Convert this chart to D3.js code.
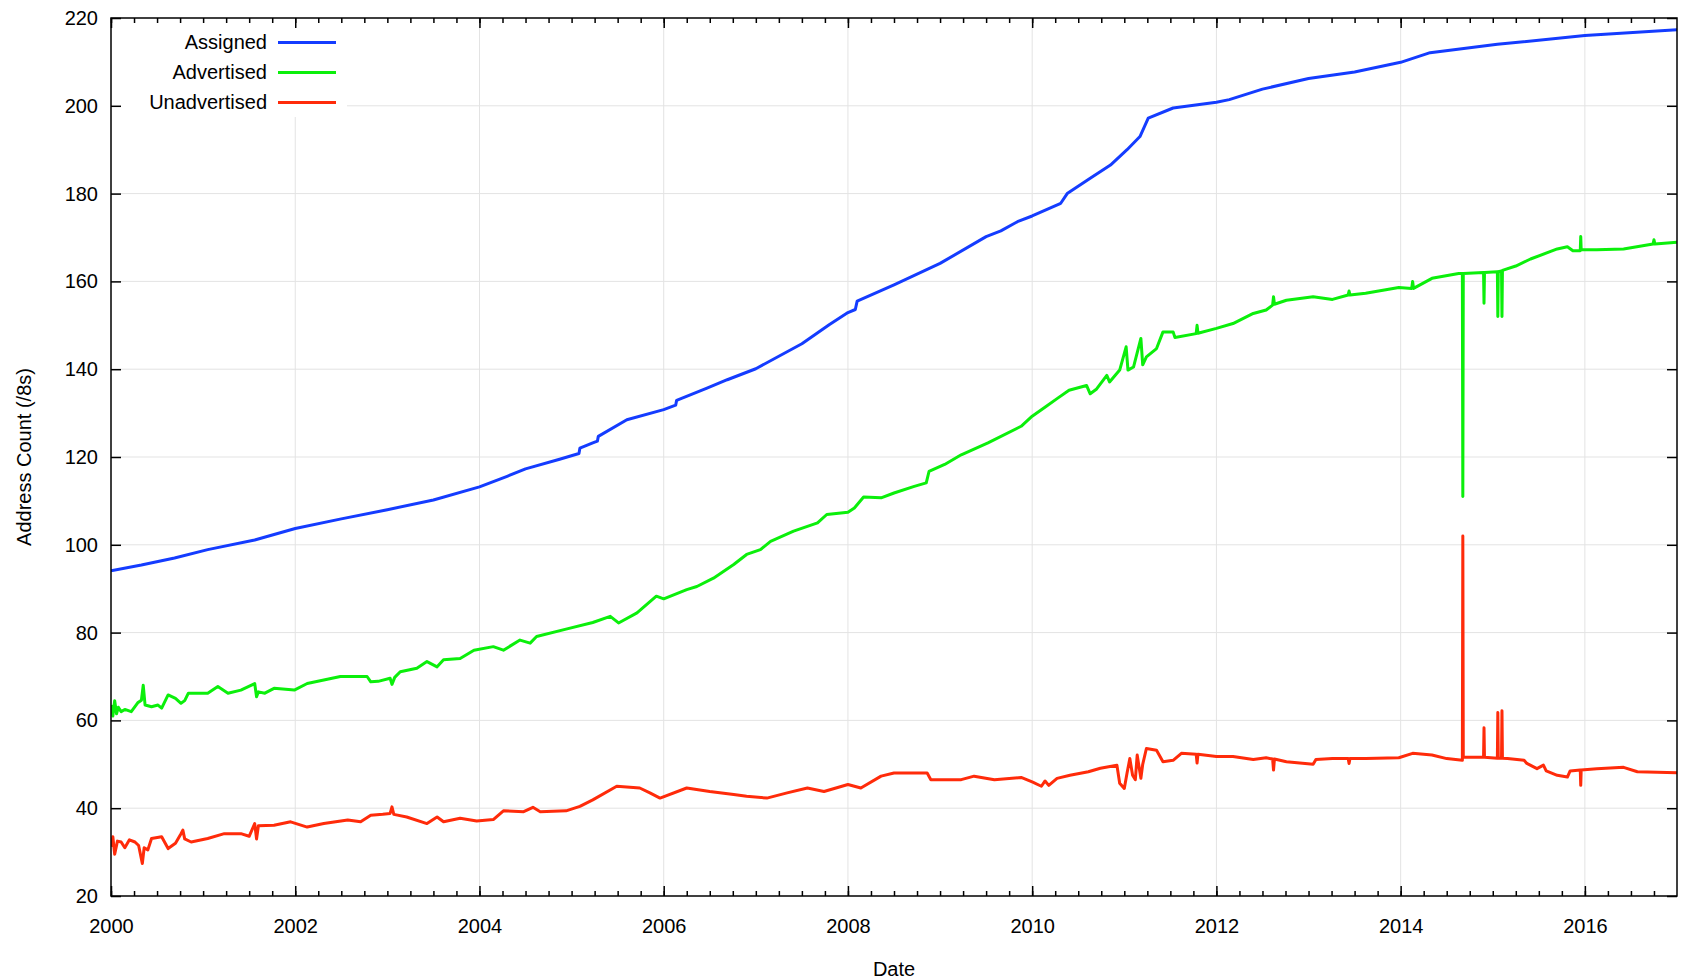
<!DOCTYPE html>
<html>
<head>
<meta charset="utf-8">
<script src="https://cdn.jsdelivr.net/npm/d3@7"></script>
<style>
  body { margin: 0; background: #fff; }
  svg { display: block; font-family: "Liberation Sans", Arial, sans-serif; }
  .grid line { stroke: #e3e3e3; stroke-width: 1; }
  .axis path { display: none; }
  .axis line { stroke: #000; stroke-width: 1.5; }
  .axis text { font-size: 20px; fill: #000; }
  .series { fill: none; stroke-width: 3; stroke-linejoin: round; stroke-linecap: butt; }
</style>
</head>
<body>
<div id="chart"></div>
<script>
///// Data (decimal year, /8 count)

let assigned = [
  [2000.0, 94.1], [2000.33, 95.4], [2000.69, 97.0], [2001.05, 98.9], [2001.56, 101.1],
  [2002.0, 103.7], [2002.5, 105.9], [2003.0, 108.0], [2003.5, 110.2], [2004.0, 113.2],
  [2004.3, 115.6], [2004.5, 117.3], [2004.87, 119.5], [2005.08, 120.8], [2005.09, 122.0],
  [2005.23, 123.2], [2005.28, 123.6], [2005.29, 124.7], [2005.6, 128.5], [2006.0, 130.8],
  [2006.13, 131.8], [2006.14, 132.9], [2006.47, 135.7], [2006.69, 137.6], [2007.0, 140.1],
  [2007.5, 145.8], [2007.8, 150.2], [2008.0, 152.9], [2008.08, 153.6], [2008.1, 155.5],
  [2008.5, 159.2], [2009.0, 164.1], [2009.5, 170.2], [2009.66, 171.5], [2009.84, 173.6],
  [2010.0, 174.9], [2010.31, 177.8], [2010.38, 180.0], [2010.63, 183.5], [2010.85, 186.5],
  [2011.03, 190.0], [2011.17, 193.0], [2011.26, 197.2], [2011.53, 199.5], [2012.0, 200.8],
  [2012.14, 201.4], [2012.5, 203.8], [2013.0, 206.2], [2013.5, 207.7], [2014.0, 209.9],
  [2014.32, 212.1], [2015.05, 214.0], [2016.0, 216.0], [2017.0, 217.3]
];

let advertised = [
  [2000.0, 63.5], [2000.02, 61.0], [2000.04, 64.5], [2000.06, 61.5], [2000.08, 63.0],
  [2000.11, 62.0], [2000.15, 62.5], [2000.22, 62.0], [2000.29, 64.0], [2000.33, 64.6],
  [2000.35, 68.0], [2000.37, 63.5], [2000.44, 63.1], [2000.51, 63.5], [2000.55, 62.8],
  [2000.62, 65.8], [2000.7, 65.0], [2000.76, 63.9], [2000.8, 64.5], [2000.84, 66.2],
  [2001.05, 66.2], [2001.16, 67.7], [2001.27, 66.2], [2001.41, 66.9], [2001.56, 68.4],
  [2001.58, 65.4], [2001.6, 66.5], [2001.67, 66.2], [2001.77, 67.3], [2001.99, 66.9],
  [2002.13, 68.4], [2002.31, 69.2], [2002.49, 70.0], [2002.64, 70.0], [2002.78, 70.0],
  [2002.82, 68.8], [2002.9, 68.9], [2003.03, 69.6], [2003.05, 68.2], [2003.08, 69.8],
  [2003.14, 71.1], [2003.32, 71.9], [2003.43, 73.4], [2003.54, 72.2], [2003.61, 73.8],
  [2003.79, 74.1], [2003.94, 76.0], [2004.15, 76.8], [2004.26, 76.0], [2004.44, 78.3],
  [2004.55, 77.6], [2004.62, 79.1], [2004.94, 80.8], [2005.23, 82.3], [2005.42, 83.7],
  [2005.51, 82.2], [2005.71, 84.5], [2005.92, 88.3], [2006.0, 87.7], [2006.25, 89.8],
  [2006.36, 90.5], [2006.54, 92.4], [2006.76, 95.5], [2006.9, 97.8], [2007.05, 98.9],
  [2007.16, 100.8], [2007.41, 103.1], [2007.67, 105.0], [2007.77, 106.9], [2008.0, 107.4],
  [2008.07, 108.4], [2008.17, 110.9], [2008.36, 110.7], [2008.5, 111.8], [2008.72, 113.3],
  [2008.85, 114.1], [2008.88, 116.7], [2009.05, 118.3], [2009.23, 120.5], [2009.52, 123.2],
  [2009.88, 127.0], [2010.0, 129.3], [2010.15, 131.5], [2010.27, 133.3], [2010.4, 135.2],
  [2010.59, 136.3], [2010.63, 134.4], [2010.7, 135.5], [2010.81, 138.6], [2010.84, 137.1],
  [2010.95, 139.8], [2011.02, 145.1], [2011.04, 139.8], [2011.1, 140.5], [2011.18, 147.0],
  [2011.2, 141.0], [2011.24, 142.8], [2011.35, 144.7], [2011.42, 148.5], [2011.53, 148.5],
  [2011.55, 147.2], [2011.78, 148.1], [2011.79, 150.0], [2011.8, 148.2], [2012.0, 149.3],
  [2012.18, 150.4], [2012.4, 152.7], [2012.54, 153.5], [2012.61, 154.6], [2012.62, 156.5],
  [2012.63, 154.8], [2012.76, 155.7], [2013.05, 156.5], [2013.26, 155.9], [2013.43, 156.9],
  [2013.44, 157.8], [2013.45, 156.9], [2013.62, 157.3], [2013.98, 158.6], [2014.12, 158.4],
  [2014.13, 160.0], [2014.14, 158.4], [2014.34, 160.7], [2014.63, 161.8], [2014.67, 161.8],
  [2014.675, 111.0], [2014.68, 161.8], [2014.9, 162.0], [2014.905, 155.0], [2014.91, 162.0],
  [2015.05, 162.2], [2015.055, 152.0], [2015.06, 162.2], [2015.095, 162.4], [2015.1, 152.0],
  [2015.105, 162.5], [2015.25, 163.5], [2015.41, 165.1], [2015.7, 167.4], [2015.81, 167.9],
  [2015.87, 167.0], [2015.95, 167.0], [2015.955, 170.2], [2015.96, 167.2], [2016.13, 167.2],
  [2016.42, 167.4], [2016.74, 168.5], [2016.75, 169.5], [2016.76, 168.5], [2017.0, 168.9]
];

let unadvertised = [
  [2000.0, 31.2], [2000.02, 33.5], [2000.04, 29.5], [2000.07, 32.5], [2000.11, 32.3],
  [2000.15, 31.0], [2000.2, 32.8], [2000.26, 32.3], [2000.3, 31.5], [2000.34, 27.4],
  [2000.36, 31.0], [2000.4, 30.5], [2000.44, 33.1], [2000.55, 33.5], [2000.62, 30.8],
  [2000.7, 32.0], [2000.76, 34.2], [2000.78, 35.0], [2000.8, 33.0], [2000.87, 32.3],
  [2001.05, 33.1], [2001.23, 34.2], [2001.41, 34.2], [2001.5, 33.6], [2001.56, 36.5],
  [2001.58, 33.0], [2001.6, 36.0], [2001.77, 36.1], [2001.95, 36.9], [2002.13, 35.7],
  [2002.31, 36.5], [2002.57, 37.3], [2002.71, 36.9], [2002.82, 38.4], [2002.95, 38.6],
  [2003.03, 38.8], [2003.05, 40.3], [2003.07, 38.6], [2003.21, 38.0], [2003.43, 36.5],
  [2003.54, 38.0], [2003.61, 36.9], [2003.79, 37.7], [2003.97, 37.1], [2004.15, 37.4],
  [2004.26, 39.4], [2004.48, 39.2], [2004.58, 40.2], [2004.66, 39.2], [2004.94, 39.4],
  [2005.09, 40.4], [2005.23, 41.9], [2005.49, 45.0], [2005.74, 44.6], [2005.85, 43.5],
  [2005.96, 42.3], [2006.25, 44.6], [2006.5, 43.8], [2006.76, 43.1], [2006.9, 42.7],
  [2007.12, 42.3], [2007.34, 43.5], [2007.56, 44.6], [2007.74, 43.8], [2008.0, 45.4],
  [2008.14, 44.6], [2008.36, 47.3], [2008.5, 48.0], [2008.86, 48.0], [2008.9, 46.5],
  [2009.23, 46.5], [2009.37, 47.3], [2009.59, 46.5], [2009.88, 47.0], [2010.0, 46.0],
  [2010.1, 45.0], [2010.14, 46.2], [2010.18, 45.2], [2010.27, 46.8], [2010.41, 47.5],
  [2010.61, 48.3], [2010.74, 49.1], [2010.92, 49.8], [2010.95, 45.7], [2011.0, 44.5],
  [2011.03, 48.0], [2011.06, 51.3], [2011.09, 47.5], [2011.12, 46.5], [2011.14, 52.1],
  [2011.18, 46.8], [2011.2, 50.0], [2011.24, 53.6], [2011.35, 53.2], [2011.42, 50.6],
  [2011.53, 50.9], [2011.62, 52.5], [2011.78, 52.3], [2011.79, 50.3], [2011.8, 52.3],
  [2012.0, 51.8], [2012.18, 51.8], [2012.4, 51.1], [2012.54, 51.5], [2012.61, 51.2],
  [2012.62, 48.7], [2012.63, 51.2], [2012.76, 50.6], [2013.05, 50.0], [2013.08, 51.1],
  [2013.26, 51.3], [2013.43, 51.3], [2013.44, 50.2], [2013.45, 51.3], [2013.62, 51.3],
  [2013.98, 51.5], [2014.13, 52.5], [2014.34, 52.1], [2014.5, 51.3], [2014.67, 50.9],
  [2014.675, 102.0], [2014.68, 51.6], [2014.9, 51.6], [2014.905, 58.3], [2014.91, 51.6],
  [2015.05, 51.4], [2015.055, 61.8], [2015.06, 51.4], [2015.095, 51.4], [2015.1, 62.2],
  [2015.105, 51.4], [2015.16, 51.3], [2015.34, 50.9], [2015.37, 50.2], [2015.48, 49.0],
  [2015.55, 49.8], [2015.58, 48.5], [2015.7, 47.5], [2015.81, 47.1], [2015.84, 48.5],
  [2015.95, 48.7], [2015.955, 45.2], [2015.96, 48.7], [2016.13, 49.0], [2016.42, 49.3],
  [2016.57, 48.3], [2017.0, 48.1]
];

let seriesNames = ["Assigned", "Advertised", "Unadvertised"];
let seriesColors = ["#143cff", "#0bef0b", "#ff2b0a"];

let yearLabels = [2000, 2002, 2004, 2006, 2008, 2010, 2012, 2014, 2016];
let yearMinor = d3.range(2000, 2017, 0.25);
let countTicks = [20, 40, 60, 80, 100, 120, 140, 160, 180, 200, 220];


///// Layout

let margin = { top: 18, right: 8, bottom: 84, left: 111 },
    width = 1685 - margin.left - margin.right,
    height = 980 - margin.top - margin.bottom;

let x = d3.scaleLinear().domain([2000, 2017]).range([0, width]);
let y = d3.scaleLinear().domain([20, 220]).range([height, 0]);

let svg = d3.select("#chart")
    .append("svg")
    .attr("width", 1685)
    .attr("height", 980);

let g = svg.append("g")
    .attr("transform", "translate(" + margin.left + "," + margin.top + ")");

// grid
g.append("g")
    .attr("class", "grid")
    .selectAll("line.v")
    .data(yearLabels.slice(1))
    .enter().append("line")
    .attr("x1", function(d) { return x(d); })
    .attr("x2", function(d) { return x(d); })
    .attr("y1", 0)
    .attr("y2", height);

g.append("g")
    .attr("class", "grid")
    .selectAll("line.h")
    .data(countTicks.slice(1, -1))
    .enter().append("line")
    .attr("x1", 0)
    .attr("x2", width)
    .attr("y1", function(d) { return y(d); })
    .attr("y2", function(d) { return y(d); });

// lines
g.append("clipPath")
    .attr("id", "plot-clip")
    .append("rect")
    .attr("width", width)
    .attr("height", height);

let valueline = d3.line()
    .x(function(d) { return x(d[0]); })
    .y(function(d) { return y(d[1]); });

let allSeries = [assigned, advertised, unadvertised];

g.append("g")
    .attr("clip-path", "url(#plot-clip)")
    .selectAll("path")
    .data(allSeries)
    .enter().append("path")
    .attr("class", "series")
    .attr("stroke", function(d, i) { return seriesColors[i]; })
    .attr("d", valueline);

// legend box (hides grid behind it)
let legend = g.append("g");

legend.append("rect")
    .attr("x", 0)
    .attr("y", 0)
    .attr("width", 236)
    .attr("height", 99)
    .attr("fill", "#fff");

let rows = legend.selectAll("g.row")
    .data(seriesNames)
    .enter().append("g")
    .attr("transform", function(d, i) { return "translate(0," + (24.5 + i * 30) + ")"; });

rows.append("text")
    .attr("x", 156)
    .attr("dy", "0.33em")
    .attr("text-anchor", "end")
    .style("font-size", "20px")
    .text(function(d) { return d; });

rows.append("line")
    .attr("x1", 167)
    .attr("x2", 225)
    .attr("stroke-width", 3)
    .attr("stroke", function(d, i) { return seriesColors[i]; });

// axes: ticks point inwards, on all four sides
g.append("g")
    .attr("class", "axis")
    .attr("transform", "translate(0," + height + ")")
    .call(d3.axisBottom(x).tickValues(yearMinor).tickSize(-5).tickFormat(""));

g.append("g")
    .attr("class", "axis")
    .attr("transform", "translate(0," + height + ")")
    .call(d3.axisBottom(x).tickValues(yearLabels).tickSize(-10).tickPadding(23)
        .tickFormat(d3.format("d")));

g.append("g")
    .attr("class", "axis")
    .call(d3.axisTop(x).tickValues(yearMinor).tickSize(-5).tickFormat(""));

g.append("g")
    .attr("class", "axis")
    .call(d3.axisTop(x).tickValues(yearLabels).tickSize(-10).tickFormat(""));

g.append("g")
    .attr("class", "axis")
    .call(d3.axisLeft(y).tickValues(countTicks).tickSize(-10).tickPadding(13));

g.append("g")
    .attr("class", "axis")
    .attr("transform", "translate(" + width + ",0)")
    .call(d3.axisRight(y).tickValues(countTicks).tickSize(-10).tickFormat(""));

// frame
g.append("rect")
    .attr("width", width)
    .attr("height", height)
    .attr("fill", "none")
    .attr("stroke", "#000")
    .attr("stroke-width", 1.5);

// axis titles
svg.append("text")
    .attr("x", margin.left + width / 2)
    .attr("y", 969)
    .attr("dy", "0.35em")
    .attr("text-anchor", "middle")
    .style("font-size", "20px")
    .text("Date");

svg.append("text")
    .attr("transform", "translate(24," + (margin.top + height / 2) + ") rotate(-90)")
    .attr("dy", "0.35em")
    .attr("text-anchor", "middle")
    .style("font-size", "20px")
    .text("Address Count (/8s)");
</script>
</body>
</html>
